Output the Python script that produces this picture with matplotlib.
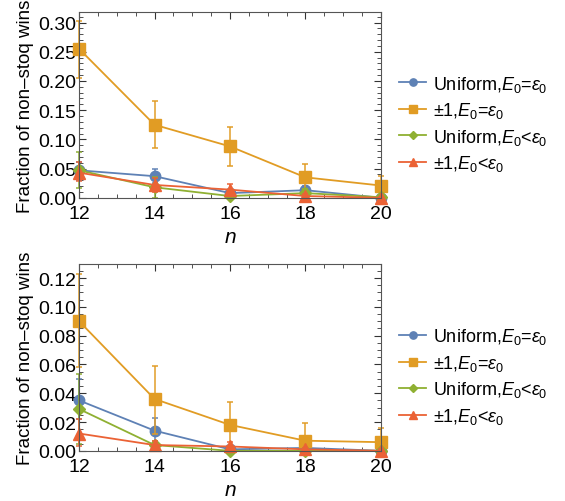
import matplotlib.pyplot as plt
from matplotlib.ticker import MultipleLocator, FormatStrFormatter

plt.rcParams['font.family'] = ['Liberation Sans', 'DejaVu Sans']
plt.rcParams['mathtext.fontset'] = 'custom'
plt.rcParams['mathtext.rm'] = 'Liberation Sans'
plt.rcParams['mathtext.it'] = 'Liberation Sans:italic'

n = [12, 14, 16, 18, 20]

# top panel: value, lower error, upper error
top_unif_eq = [0.047, 0.037, 0.008, 0.013, 0.000]
top_unif_eq_lo = [0.031, 0.025, 0.004, 0.005, 0.000]
top_unif_eq_hi = [0.062, 0.050, 0.013, 0.021, 0.001]
top_pm_eq = [0.255, 0.125, 0.088, 0.035, 0.021]
top_pm_eq_lo = [0.205, 0.085, 0.055, 0.015, 0.005]
top_pm_eq_hi = [0.303, 0.165, 0.122, 0.058, 0.038]
top_unif_lt = [0.047, 0.018, 0.003, 0.008, 0.001]
top_unif_lt_lo = [0.017, 0.000, 0.000, 0.002, 0.000]
top_unif_lt_hi = [0.078, 0.035, 0.007, 0.015, 0.002]
top_pm_lt = [0.043, 0.022, 0.014, 0.003, 0.000]
top_pm_lt_lo = [0.028, 0.010, 0.005, 0.000, 0.000]
top_pm_lt_hi = [0.062, 0.034, 0.024, 0.007, 0.001]

# bottom panel
bot_unif_eq = [0.035, 0.014, 0.001, 0.002, 0.000]
bot_unif_eq_lo = [0.022, 0.005, 0.000, 0.000, 0.000]
bot_unif_eq_hi = [0.050, 0.023, 0.003, 0.004, 0.001]
bot_pm_eq = [0.090, 0.036, 0.018, 0.007, 0.006]
bot_pm_eq_lo = [0.058, 0.012, 0.003, 0.000, 0.000]
bot_pm_eq_hi = [0.123, 0.059, 0.034, 0.019, 0.016]
bot_unif_lt = [0.029, 0.004, 0.000, 0.000, 0.000]
bot_unif_lt_lo = [0.005, 0.001, 0.000, 0.000, 0.000]
bot_unif_lt_hi = [0.053, 0.007, 0.001, 0.001, 0.001]
bot_pm_lt = [0.012, 0.004, 0.003, 0.001, 0.000]
bot_pm_lt_lo = [0.003, 0.001, 0.000, 0.000, 0.000]
bot_pm_lt_hi = [0.022, 0.007, 0.006, 0.002, 0.001]

labels = [r'Uniform,$E_0$=$\varepsilon_0$', r'±1,$E_0$=$\varepsilon_0$',
          r'Uniform,$E_0$<$\varepsilon_0$', r'±1,$E_0$<$\varepsilon_0$']
colors = ['#5E81B5', '#E19C24', '#8FB032', '#EB6235']
markers = ['o', 's', 'D', '^']
msizes = [7.5, 8.5, 6.5, 8]

fig = plt.figure(figsize=(5.65, 5.02), dpi=100)
ax_top = fig.add_axes([0.140, 0.604, 0.534, 0.370])
ax_bot = fig.add_axes([0.140, 0.100, 0.534, 0.372])

panels = [
    (ax_top, [(top_unif_eq, top_unif_eq_lo, top_unif_eq_hi),
              (top_pm_eq, top_pm_eq_lo, top_pm_eq_hi),
              (top_unif_lt, top_unif_lt_lo, top_unif_lt_hi),
              (top_pm_lt, top_pm_lt_lo, top_pm_lt_hi)],
     0.318, 0.05, 0.01),
    (ax_bot, [(bot_unif_eq, bot_unif_eq_lo, bot_unif_eq_hi),
              (bot_pm_eq, bot_pm_eq_lo, bot_pm_eq_hi),
              (bot_unif_lt, bot_unif_lt_lo, bot_unif_lt_hi),
              (bot_pm_lt, bot_pm_lt_lo, bot_pm_lt_hi)],
     0.1297, 0.02, 0.005),
]

for ax, series, ytop, ymaj, ymin in panels:
    handles = []
    for (vals, lo, hi), c, m, ms, lab in zip(series, colors, markers, msizes, labels):
        err = [[v - l for v, l in zip(vals, lo)], [h - v for v, h in zip(vals, hi)]]
        ax.errorbar(n, vals, yerr=err, fmt='none', ecolor=c, elinewidth=1.2,
                    capsize=2.5, capthick=1.2, clip_on=False, alpha=0.9)
        h, = ax.plot(n, vals, color=c, lw=1.3, marker=m, ms=ms, mec=c, mfc=c,
                     label=lab, clip_on=False)
        handles.append(h)
    ax.set_xlim(12, 20)
    ax.set_ylim(0, ytop)
    ax.xaxis.set_major_locator(MultipleLocator(2))
    ax.xaxis.set_minor_locator(MultipleLocator(0.5))
    ax.yaxis.set_major_locator(MultipleLocator(ymaj))
    ax.yaxis.set_minor_locator(MultipleLocator(ymin))
    ax.yaxis.set_major_formatter(FormatStrFormatter('%.2f'))
    ax.tick_params(which='both', direction='in', top=True, right=True,
                   labelsize=14, color='#333333')
    ax.tick_params(axis='y', pad=2)
    ax.tick_params(axis='x', pad=5)
    ax.tick_params(which='major', length=5, width=0.8)
    ax.tick_params(which='minor', length=3, width=0.6)
    for sp in ax.spines.values():
        sp.set_color('#555555')
        sp.set_linewidth(0.8)
    ax.set_xlabel('$n$', fontsize=15, labelpad=4)
    ax.set_ylabel('Fraction of non\u2013stoq wins', fontsize=13.5, labelpad=3)
    ax.legend(handles=handles, loc='center left', bbox_to_anchor=(1.025, 0.40),
              frameon=False, fontsize=13, handlelength=1.5, handletextpad=0.35,
              labelspacing=0.36, borderaxespad=0.2, markerscale=0.7)

fig.savefig('out.png', dpi=100)
